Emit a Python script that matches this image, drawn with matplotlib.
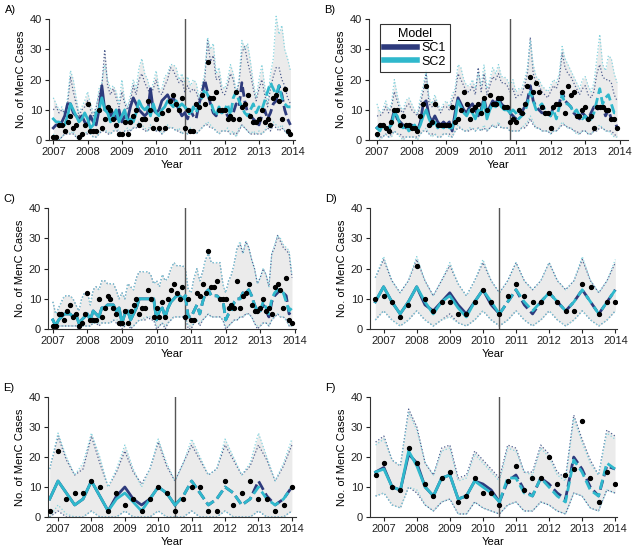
import numpy as np
import matplotlib.pyplot as plt
from matplotlib.lines import Line2D

plt.rcParams['font.family'] = ['Liberation Sans', 'DejaVu Sans']

# ---- monthly panels (A, B, C): Jan 2007 .. Dec 2013 ----
obs_ac = [1, 1, 5, 5, 3, 6, 8, 4, 5, 1, 2, 5,
          12, 3, 3, 3, 10, 4, 7, 11, 10, 7, 5, 2,
          2, 6, 2, 6, 8, 10, 5, 7, 7, 13, 10, 4,
          7, 4, 9, 4, 10, 13, 15, 12, 10, 14, 4, 10,
          3, 3, 12, 11, 15, 12, 26, 14, 14, 16, 10, 10,
          10, 7, 8, 7, 16, 7, 11, 12, 15, 8, 6, 6,
          7, 10, 6, 7, 5, 14, 15, 13, 7, 17, 3, 2]

a_sc1 = [4, 5, 5, 6, 8, 12, 12, 9, 8, 7, 8, 6,
         5, 8, 6, 5, 10, 18, 10, 11, 8, 9, 7, 10,
         6, 8, 7, 11, 14, 12, 10, 9, 8, 9, 17, 10,
         9, 10, 13, 14, 15, 13, 14, 12, 10, 8, 9, 7,
         10, 8, 7, 12, 15, 20, 16, 12, 9, 8, 10, 9,
         10, 8, 7, 9, 12, 11, 19, 13, 9, 8, 7, 6,
         5, 8, 10, 7, 9, 12, 13, 18, 15, 10, 7, 5]
a_sc2 = [7, 6, 6, 5, 5, 8, 12, 10, 8, 6, 7, 9,
         7, 4, 5, 9, 10, 14, 10, 9, 6, 8, 10, 6,
         8, 10, 6, 7, 6, 9, 13, 11, 10, 11, 8, 12,
         9, 8, 10, 11, 13, 12, 11, 13, 11, 12, 11, 10,
         8, 11, 9, 12, 14, 17, 15, 13, 10, 8, 11, 9,
         10, 12, 8, 14, 16, 13, 11, 9, 8, 10, 12, 9,
         11, 10, 13, 16, 19, 17, 15, 18, 14, 12, 11, 11]
a_hi1 = [10, 11, 9, 10, 9, 12, 21, 16, 12, 8, 10, 11,
         13, 10, 8, 11, 15, 18, 30, 18, 15, 17, 14, 11,
         16, 12, 10, 13, 18, 15, 20, 22, 19, 17, 15, 17,
         20, 16, 15, 18, 20, 24, 23, 21, 19, 20, 16, 18,
         16, 17, 16, 13, 16, 20, 33, 26, 28, 20, 21, 16,
         15, 18, 22, 20, 15, 19, 29, 31, 26, 22, 17, 13,
         17, 20, 15, 11, 17, 21, 24, 24, 20, 18, 14, 12]
a_hi2 = [14, 12, 10, 11, 8, 14, 23, 20, 14, 9, 11, 13,
         16, 12, 9, 10, 17, 19, 25, 20, 17, 18, 16, 12,
         20, 13, 11, 15, 20, 17, 24, 27, 22, 20, 16, 19,
         23, 17, 17, 21, 22, 25, 25, 24, 20, 22, 19, 21,
         18, 20, 19, 14, 18, 22, 34, 30, 32, 22, 24, 18,
         17, 20, 25, 22, 16, 20, 33, 30, 32, 26, 19, 14,
         20, 25, 18, 12, 22, 27, 41, 35, 38, 30, 27, 23]
a_lo1 = [1, 1, 0, 1, 2, 2, 2, 2, 1, 1, 1, 2,
         2, 2, 1, 1, 2, 3, 3, 2, 2, 3, 3, 3,
         2, 3, 3, 3, 4, 4, 5, 4, 3, 3, 4, 4,
         3, 3, 2, 3, 4, 4, 4, 3, 3, 2, 3, 2,
         3, 3, 2, 3, 4, 5, 5, 4, 4, 3, 2, 3,
         3, 3, 2, 2, 2, 3, 5, 4, 3, 2, 2, 2,
         2, 2, 3, 4, 3, 5, 4, 3, 4, 3, 2, 1]
a_lo2 = [2, 1, 0, 1, 2, 3, 2, 3, 1, 0, 1, 2,
         3, 2, 1, 1, 2, 4, 3, 3, 2, 3, 4, 3,
         2, 3, 4, 3, 4, 5, 6, 5, 4, 3, 5, 4,
         3, 4, 2, 3, 5, 4, 4, 3, 4, 2, 3, 2,
         4, 3, 2, 3, 4, 5, 6, 5, 4, 3, 2, 3,
         3, 4, 2, 3, 1, 4, 5, 4, 3, 2, 3, 2,
         3, 2, 3, 5, 4, 6, 5, 4, 5, 3, 2, 1]

obs_b = [2, 5, 5, 4, 3, 6, 10, 10, 5, 8, 5, 5,
         4, 4, 3, 8, 12, 18, 5, 6, 12, 5, 5, 5,
         5, 5, 11, 6, 7, 10, 16, 12, 7, 10, 11, 12,
         9, 14, 10, 15, 12, 12, 14, 14, 11, 11, 6, 7,
         6, 10, 9, 12, 18, 21, 16, 19, 16, 11, 9, 9,
         4, 11, 12, 12, 16, 9, 18, 15, 16, 8, 8, 10,
         11, 7, 8, 4, 11, 11, 11, 10, 10, 7, 7, 4]
b_sc1 = [4, 5, 5, 4, 3, 6, 10, 7, 6, 5, 4, 5,
         5, 4, 3, 6, 12, 13, 8, 6, 8, 6, 5, 6,
         5, 6, 3, 9, 14, 12, 10, 9, 11, 12, 10, 8,
         10, 14, 9, 11, 13, 12, 14, 12, 11, 11, 9, 8,
         7, 8, 9, 11, 13, 18, 13, 11, 10, 9, 9, 9,
         8, 11, 12, 12, 16, 13, 12, 11, 9, 8, 7, 9,
         8, 7, 9, 11, 10, 11, 11, 8, 10, 7, 7, 4]
b_sc2 = [4, 3, 5, 4, 4, 5, 9, 8, 5, 4, 5, 3,
         4, 5, 3, 5, 8, 10, 7, 5, 6, 4, 5, 4,
         5, 4, 4, 7, 13, 11, 9, 8, 10, 9, 7, 10,
         9, 13, 7, 10, 12, 11, 13, 11, 10, 10, 9, 10,
         9, 7, 8, 9, 12, 16, 13, 10, 11, 12, 10, 9,
         8, 10, 7, 11, 15, 12, 12, 11, 9, 10, 8, 7,
         8, 6, 7, 9, 13, 17, 12, 14, 15, 12, 9, 9]
b_hi1 = [8, 8, 9, 11, 9, 11, 16, 13, 10, 9, 11, 12,
         10, 9, 8, 12, 16, 22, 12, 11, 13, 11, 9, 11,
         11, 10, 13, 15, 22, 20, 18, 16, 16, 18, 15, 24,
         16, 22, 15, 18, 21, 20, 22, 19, 19, 18, 16, 17,
         14, 15, 15, 18, 22, 34, 22, 19, 18, 16, 15, 14,
         16, 18, 17, 20, 29, 24, 22, 21, 19, 17, 15, 17,
         18, 15, 14, 16, 22, 25, 21, 20, 20, 19, 15, 13]
b_hi2 = [12, 9, 10, 13, 10, 12, 20, 15, 11, 10, 13, 14,
         12, 10, 9, 14, 18, 23, 14, 12, 15, 12, 10, 12,
         13, 11, 15, 17, 25, 24, 20, 18, 18, 20, 17, 22,
         18, 25, 17, 20, 24, 22, 25, 21, 21, 20, 18, 20,
         16, 17, 17, 20, 24, 33, 25, 21, 20, 18, 17, 16,
         18, 20, 19, 22, 31, 27, 25, 23, 21, 19, 17, 20,
         21, 18, 16, 19, 27, 35, 25, 23, 28, 27, 22, 19]
b_lo1 = [1, 1, 1, 2, 1, 2, 3, 2, 2, 1, 1, 1,
         1, 1, 1, 2, 3, 3, 2, 2, 2, 1, 1, 2,
         2, 2, 1, 3, 4, 4, 3, 3, 3, 4, 3, 4,
         3, 4, 3, 4, 5, 4, 5, 4, 4, 4, 3, 3,
         3, 3, 4, 4, 5, 7, 5, 4, 4, 3, 3, 3,
         2, 3, 3, 4, 5, 5, 4, 4, 3, 3, 2, 3,
         3, 2, 2, 3, 3, 4, 4, 3, 3, 3, 2, 1]
b_lo2 = [1, 0, 1, 2, 1, 1, 3, 2, 1, 0, 1, 1,
         1, 1, 0, 2, 3, 4, 2, 1, 2, 1, 1, 2,
         2, 1, 1, 3, 5, 4, 3, 3, 4, 4, 3, 4,
         3, 5, 3, 4, 5, 4, 6, 4, 4, 4, 3, 3,
         3, 3, 4, 5, 6, 8, 6, 4, 4, 3, 3, 3,
         2, 3, 3, 4, 6, 5, 4, 4, 3, 2, 2, 3,
         3, 2, 2, 3, 4, 5, 4, 3, 3, 2, 1, 1]

c_sc1 = [3, 1, 3, 4, 5, 5, 5, 4, 5, 2, 3, 4,
         5, 3, 6, 5, 4, 7, 7, 8, 8, 8, 6, 7,
         2, 5, 6, 3, 5, 7, 10, 10, 10, 10, 10, 10,
         3, 6, 7, 4, 7, 9, 10, 11, 11, 10, 11, 4,
         4, 6, 8, 5, 9, 12, 13, 11, 11, 11, 10, 10,
         3, 5, 6, 9, 10, 10, 12, 12, 13, 11, 8, 6,
         6, 8, 6, 4, 9, 11, 12, 13, 12, 11, 5, 6]
c_sc2 = [3, 1, 3, 4, 5, 5, 5, 4, 5, 2, 3, 4,
         5, 3, 6, 5, 4, 7, 7, 8, 8, 8, 6, 7,
         2, 5, 6, 3, 5, 7, 10, 10, 10, 10, 10, 10,
         3, 6, 7, 4, 7, 9, 10, 11, 11, 10, 11, 4,
         4, 6, 8, 5, 9, 12, 13, 11, 11, 11, 10, 10,
         3, 5, 6, 9, 10, 10, 12, 12, 13, 11, 8, 6,
         6, 9, 7, 5, 10, 12, 13, 13, 12, 9, 6, 7]
c_hi1 = [9, 5, 7, 9, 11, 11, 11, 10, 8, 6, 10, 12,
         12, 8, 13, 14, 13, 16, 16, 15, 15, 15, 13, 10,
         12, 10, 15, 14, 13, 17, 19, 19, 19, 19, 18, 15,
         16, 14, 18, 16, 17, 20, 22, 21, 21, 21, 20, 13,
         12, 17, 20, 16, 19, 23, 25, 22, 22, 22, 22, 15,
         12, 16, 18, 22, 27, 28, 25, 29, 27, 23, 20, 15,
         17, 20, 18, 14, 25, 27, 31, 29, 27, 26, 25, 17]
c_hi2 = [9, 5, 7, 9, 11, 11, 11, 10, 8, 6, 10, 12,
         12, 8, 13, 14, 13, 16, 16, 15, 15, 15, 13, 10,
         12, 10, 15, 14, 13, 17, 19, 19, 19, 19, 18, 15,
         16, 14, 18, 16, 17, 20, 22, 21, 21, 21, 20, 13,
         12, 17, 20, 16, 19, 23, 25, 22, 22, 22, 22, 15,
         12, 16, 18, 22, 27, 29, 25, 29, 27, 23, 20, 15,
         17, 20, 18, 14, 25, 28, 31, 30, 28, 27, 26, 18]
c_lo1 = [0, 0, 1, 1, 1, 1, 1, 1, 1, 0, 1, 1,
         1, 1, 2, 2, 1, 2, 2, 2, 2, 3, 2, 2,
         0, 1, 2, 0, 1, 2, 3, 3, 3, 4, 3, 3,
         0, 1, 2, 0, 2, 3, 4, 4, 4, 4, 4, 0,
         0, 2, 3, 1, 3, 4, 5, 4, 4, 4, 4, 3,
         0, 1, 2, 3, 3, 4, 4, 5, 5, 4, 2, 0,
         1, 2, 2, 1, 3, 4, 5, 4, 4, 3, 1, 1]
c_lo2 = [1, 1, 1, 1, 1, 1, 1, 1, 1, 1, 1, 1,
         1, 1, 2, 2, 2, 2, 2, 2, 2, 3, 3, 3,
         1, 1, 2, 1, 1, 2, 3, 3, 4, 4, 4, 4,
         1, 1, 2, 1, 2, 3, 4, 4, 4, 4, 4, 1,
         1, 2, 3, 2, 3, 4, 5, 4, 4, 4, 4, 3,
         1, 1, 2, 3, 3, 4, 4, 5, 5, 4, 2, 1,
         1, 2, 2, 1, 3, 4, 5, 4, 4, 3, 1, 1]

# ---- quarterly panels (D, E, F): Q4 2006 .. Q1 2014 ----
obs_d = [10, 11, 9, 4, 8, 21, 10, 6, 9, 9, 5, 5, 9, 13, 9, 5,
         11, 15, 11, 9, 9, 12, 9, 6, 6, 15, 14, 5, 9, 9]
d_sc1 = [9, 14, 9, 5, 9, 14, 8, 6, 9, 12, 8, 5, 9, 13, 8, 5,
         9, 13, 8, 5, 9, 12, 9, 6, 9, 13, 9, 5, 9, 13]
d_sc2 = [9, 14, 9, 5, 9, 14, 9, 5, 9, 11, 7, 4, 9, 13, 9, 5,
         9, 13, 9, 6, 9, 12, 9, 6, 9, 13, 9, 5, 9, 13]
d_hi1 = [17, 23, 16, 12, 16, 23, 16, 11, 16, 21, 15, 11, 16, 22, 16, 12,
         16, 22, 16, 13, 16, 22, 16, 13, 16, 23, 16, 12, 16, 22]
d_hi2 = [17, 24, 16, 12, 16, 24, 16, 11, 16, 22, 15, 11, 16, 23, 16, 12,
         16, 22, 16, 13, 16, 22, 16, 13, 16, 24, 16, 12, 16, 23]
d_lo1 = [3, 6, 3, 1, 3, 6, 3, 1, 3, 5, 2, 1, 3, 6, 3, 1,
         3, 6, 3, 1, 3, 6, 3, 1, 3, 6, 3, 1, 3, 6]
d_lo2 = [3, 6, 3, 1, 3, 6, 3, 1, 3, 4, 2, 1, 3, 6, 3, 1,
         3, 6, 3, 1, 3, 6, 3, 1, 3, 6, 3, 1, 3, 6]

obs_e = [2, 22, 6, 8, 8, 12, 10, 2, 8, 4, 6, 2, 6, 10, 8, 2,
         6, 10, 10, 2, 2, 12, 4, 8, 12, 6, 6, 2, 4, 10]
e_sc1 = [6, 12, 8, 4, 6, 12, 7, 2, 7, 10, 6, 4, 6, 10, 8, 4,
         7, 12, 8, 4, 6, 10, 8, 4, 6, 12, 7, 4, 6, 10]
e_sc2 = [6, 12, 8, 4, 6, 12, 7, 2, 6, 8, 5, 2, 6, 10, 8, 4,
         7, 12, 8, 4, 6, 10, 8, 4, 6, 10, 6, 4, 6, 10]
e_hi1 = [16, 27, 19, 14, 16, 27, 18, 10, 15, 22, 15, 11, 16, 25, 17, 12,
         18, 24, 19, 14, 16, 24, 19, 14, 17, 24, 19, 12, 17, 24]
e_hi2 = [16, 28, 20, 14, 18, 28, 20, 10, 16, 24, 16, 10, 16, 26, 18, 12,
         18, 26, 20, 14, 16, 26, 20, 14, 18, 28, 20, 12, 18, 26]
e_lo1 = [0, 2, 0, 0, 0, 2, 0, 0, 0, 2, 0, 0, 0, 2, 0, 0,
         0, 2, 0, 0, 0, 2, 0, 0, 0, 2, 0, 0, 0, 2]
e_lo2 = [0, 4, 1, 0, 0, 2, 0, 0, 0, 2, 0, 0, 0, 2, 0, 0,
         0, 2, 0, 0, 0, 2, 0, 0, 0, 2, 0, 0, 0, 2]

obs_f = [14, 18, 10, 9, 23, 18, 11, 7, 13, 15, 5, 7, 13, 8, 8, 4,
         12, 17, 9, 13, 13, 20, 11, 14, 16, 32, 13, 5, 15, 11]
f_sc1 = [15, 16.5, 10, 9, 21, 18, 10, 7, 13, 14, 6, 7, 12, 11, 9, 5,
         12, 14, 9, 7, 13, 11, 8, 6, 20, 16, 10, 7, 17, 16]
f_sc2 = [15, 16, 10, 9, 22, 17, 10, 7, 13, 14, 6, 7, 12, 10, 8, 5,
         13, 13, 8, 7, 13, 10, 7, 5, 19, 15, 9, 7, 18, 16]
f_hi1 = [25, 27, 19, 17, 36, 30, 18, 14, 23, 24, 13, 14, 22, 19, 16, 13,
         24, 23, 15, 15, 24, 21, 15, 13, 34, 26, 19, 14, 29, 27]
f_hi2 = [24, 26, 19, 17, 35, 29, 18, 14, 22, 23, 12, 13, 21, 18, 15, 12,
         23, 22, 15, 14, 23, 20, 14, 12, 33, 25, 18, 14, 28, 26]
f_lo1 = [7, 8, 4, 3, 10, 8, 4, 2, 5, 6, 1, 1, 5, 3, 2, 1,
         4, 5, 2, 2, 5, 4, 2, 1, 8, 7, 3, 2, 9, 8]
f_lo2 = [7, 8, 4, 3, 10, 9, 4, 2, 5, 6, 1, 1, 5, 3, 2, 1,
         4, 5, 2, 2, 5, 4, 2, 1, 8, 7, 3, 2, 9, 8]

SC1 = '#2e3b7d'
SC2 = '#2fb8cc'
SC1_CI = '#4f5f8f'
SC2_CI = '#86d3de'

x_month = 2007 + np.arange(84) / 12
x_quart = 2006.75 + 0.25 * np.arange(30)


def panel(rect, xlim, x, split, split_x, obs, sc1, sc2, hi1, hi2, lo1, lo2, letter):
    ax = fig.add_axes(rect)
    hi = np.maximum(hi1, hi2)
    lo = np.minimum(lo1, lo2)
    ax.fill_between(x, lo, hi, color='#ebebeb', lw=0)
    ax.plot(x, hi1, ':', color=SC1_CI, lw=0.9, clip_on=False)
    ax.plot(x, lo1, ':', color=SC1_CI, lw=0.9)
    ax.plot(x, hi2, ':', color=SC2_CI, lw=0.9, clip_on=False)
    ax.plot(x, lo2, ':', color=SC2_CI, lw=0.9)
    ax.axvline(split_x, color='#555555', lw=1)
    for y, c in ((sc1, SC1), (sc2, SC2)):
        y = np.asarray(y, dtype=float)
        ax.plot(x[:split + 1], y[:split + 1], '-', color=c, lw=2)
        ax.plot(x[split:], y[split:], color=c, lw=2, dashes=(3.5, 1.5))
    ax.plot(x, obs, 'o', color='black', ms=2.8, zorder=5)
    ax.set_xlim(*xlim)
    ax.set_ylim(0, 40)
    ax.set_xticks(range(2007, 2015))
    ax.set_yticks([0, 10, 20, 30, 40])
    for s in ('top', 'right'):
        ax.spines[s].set_visible(False)
    for s in ('left', 'bottom'):
        ax.spines[s].set_color('#333333')
        ax.spines[s].set_linewidth(0.8)
    ax.tick_params(direction='out', length=3, width=0.8, labelsize=8,
                   colors='#222222', pad=2)
    ax.set_xlabel('Year', fontsize=8, labelpad=2)
    ax.set_ylabel('No. of MenC Cases', fontsize=8, labelpad=3)
    x0 = rect[0] - 0.07
    fig.text(x0, rect[1] + rect[3] + 0.008, letter, fontsize=8, va='bottom', ha='left')
    return ax


fig = plt.figure(figsize=(6.34, 5.55), dpi=100)

panel([0.0773, 0.7477, 0.388, 0.2175], (2006.875, 2014.05), x_month, 46, 2007 + 46 / 12,
      obs_ac, a_sc1, a_sc2, a_hi1, a_hi2, a_lo1, a_lo2, 'A)')
axb = panel([0.582, 0.7477, 0.4085, 0.2175], (2006.77, 2014.23), x_month, 46, 2007 + 46 / 12,
            obs_b, b_sc1, b_sc2, b_hi1, b_hi2, b_lo1, b_lo2, 'B)')
panel([0.0757, 0.4072, 0.391, 0.2175], (2006.86, 2014.03), x_month, 46, 2007 + 46 / 12,
      obs_ac, c_sc1, c_sc2, c_hi1, c_hi2, c_lo1, c_lo2, 'C)')
panel([0.5836, 0.4072, 0.3896, 0.2175], (2006.59, 2014.05), x_quart, 15, 2010.5,
      obs_d, d_sc1, d_sc2, d_hi1, d_hi2, d_lo1, d_lo2, 'D)')
panel([0.0757, 0.0685, 0.391, 0.216], (2006.7, 2014.12), x_quart, 15, 2010.5,
      obs_e, e_sc1, e_sc2, e_hi1, e_hi2, e_lo1, e_lo2, 'E)')
panel([0.5836, 0.0685, 0.3896, 0.216], (2006.58, 2014.06), x_quart, 15, 2010.5,
      obs_f, f_sc1, f_sc2, f_hi1, f_hi2, f_lo1, f_lo2, 'F)')

h1, = axb.plot([], [], color=SC1, lw=4)
h2, = axb.plot([], [], color=SC2, lw=4)
leg = axb.legend([h1, h2], ['SC1', 'SC2'], title='Model',
                 loc='upper left', bbox_to_anchor=(0.02, 1.01), fontsize=9,
                 title_fontsize=9, frameon=True, fancybox=False, edgecolor='black',
                 handlelength=2.6, borderpad=0.3, labelspacing=0.15, handletextpad=0.4)
leg.get_frame().set_linewidth(0.8)

# underline the legend title
fig.canvas.draw()
bb = leg.get_title().get_window_extent().transformed(fig.transFigure.inverted())
fig.add_artist(Line2D([bb.x0, bb.x1], [bb.y0 + 0.001, bb.y0 + 0.001],
                      transform=fig.transFigure, color='black', lw=0.7))

fig.savefig('out.png', dpi=100)
